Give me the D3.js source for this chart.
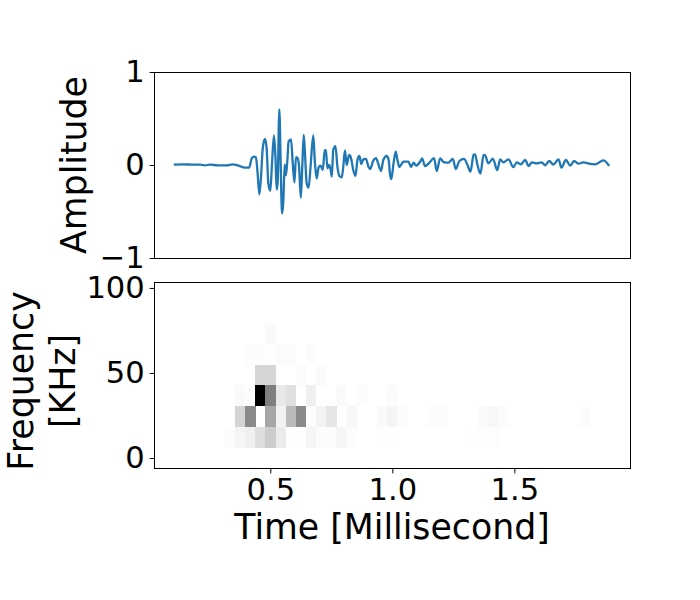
<!DOCTYPE html>
<html><head><meta charset="utf-8">
<style>html,body{margin:0;padding:0;background:#fff}svg{display:block}text{font-family:"DejaVu Sans";fill:#000}</style>
<script src="https://cdnjs.cloudflare.com/ajax/libs/d3/7.8.5/d3.min.js"></script>
</head><body><svg id="c" width="700" height="600"></svg>
<script>
const times=[.109,.144,.178,.212,.232,.253,.287,.321,.346,.369,.396,.413,.424,.433,.441,.447,.455,.462,.469,.478,.485,.492,.500,.507,.515,.521,.526,.530,.537,.543,.548,.553,.559,.564,.570,.575,.585,.592,.599,.605,.611,.618,.625,.631,.637,.642,.649,.657,.665,.676,.683,.690,.698,.706,.715,.723,.728,.734,.741,.746,.752,.758,.767,.775,.783,.793,.799,.806,.813,.823,.831,.840,.849,.857,.865,.873,.881,.892,.902,.909,.922,.933,.943,.954,.963,.977,.985,.991,.996,1.005,1.014,1.021,1.029,1.046,1.066,1.077,1.087,1.098,1.114,1.122,1.134,1.152,1.171,1.182,1.196,1.210,1.230,1.248,1.260,1.275,1.294,1.308,1.320,1.333,1.339,1.349,1.361,1.374,1.380,1.394,1.412,1.430,1.442,1.455,1.476,1.496,1.510,1.527,1.544,1.559,1.572,1.592,1.613,1.626,1.643,1.660,1.681,1.693,1.711,1.729,1.745,1.763,1.783,1.811,1.831,1.865,1.886];
const amplitude=[.004,.007,.004,.004,-.004,.004,-.004,-.004,.007,-.007,-.029,-.029,.072,.09,.082,-.054,-.315,-.125,.179,.28,.179,-.197,-.276,.018,.319,.09,-.262,-.197,.599,-.054,-.52,-.412,.004,-.111,.054,.251,.276,.018,-.186,.082,.082,-.018,-.351,-.018,.323,.125,-.197,-.244,-.018,.319,.018,-.147,-.025,-.007,-.054,.161,.161,-.036,0,-.036,-.125,.161,.204,-.018,-.118,-.133,-.018,.158,0,.108,.072,-.054,-.118,.054,.097,.011,.061,.065,-.018,-.043,.047,.075,.007,-.065,.054,.097,.054,-.108,-.151,.018,.143,.054,-.022,.036,.036,-.022,.025,-.007,.036,.072,-.011,.025,.075,-.065,.072,.032,.025,.065,-.043,.043,.065,0,-.072,.108,.115,0,-.093,.108,.104,.018,.068,-.054,.061,.029,.061,-.022,.029,.007,.054,-.011,.029,.018,.029,-.004,.043,.004,.061,-.029,.054,-.007,.043,.014,.029,.011,.007,.05,0];
const ampTicks=[-1,0,1], timeTicks=[0.5,1.0,1.5], freqTicks=[0,50,100];
const columns=d3.range(47), rows=d3.range(9);
const cellRow=[2,3,3,3,3,3,3,4,4,4,4,5,5,5,5,5,5,5,5,5,5,5,5,6,6,6,6,6,6,6,6,6,6,6,6,6,6,6,6,6,6,6,7,7,7,7,7,7,7,7,7,7,7,7,7,7,7,7,7,7];
const cellCol=[11,9,10,11,12,13,15,10,11,14,16,8,9,10,11,12,13,15,18,19,20,23,23,8,9,11,12,13,14,15,16,17,19,22,23,24,27,28,32,33,34,42,7,8,9,10,11,12,13,14,15,16,17,18,19,22,23,31,32,33];
const cellValue=[.02,.01,.012,.005,.015,.015,.01,.16,.16,.01,.02,.02,.01,1,.5,.09,.12,.06,.02,.005,.01,.008,.015,.17,.46,.35,.05,.27,.46,.01,.05,.1,.03,.02,.04,.01,.012,.012,.02,.03,.012,.012,.01,.04,.06,.13,.2,.08,.005,.005,.04,.01,.015,.04,.01,.005,.005,.005,.008,.008];

const left=154.5,right=630.5,t1=72.5,b1=258.5,t2=282.5,b2=468.5;
const svg=d3.select("#c");
const x=d3.scaleLinear().domain([0.0234,1.974]).range([left-.5,right-.5]);
const y1=d3.scaleLinear().domain([-1,1]).range([b1-.5,t1-.5]);
const y2=d3.scaleLinear().domain([-5.9,103.5]).range([b2-.5,t2-.5]);
const cx=d3.scaleBand().domain(columns).range([left-.5,right-.5]);
const cy=d3.scaleBand().domain(rows).range([t2-.5,b2-.5]);
const shade=v=>d3.rgb(255*(1-v),255*(1-v),255*(1-v));

svg.append("g").selectAll("rect").data(cellValue).join("rect")
 .attr("x",(d,i)=>cx(cellCol[i])).attr("y",(d,i)=>cy(cellRow[i]))
 .attr("width",cx.bandwidth()+.3).attr("height",cy.bandwidth()+.3)
 .attr("fill",d=>shade(d)).attr("shape-rendering","crispEdges");

svg.append("path").datum(times).attr("fill","none").attr("stroke","#1f77b4").attr("stroke-width",2.3)
 .attr("stroke-linejoin","round").attr("stroke-linecap","square")
 .attr("d",d3.line().curve(d3.curveMonotoneX).x(d=>x(d)).y((d,i)=>y1(amplitude[i])));

const tickF=30.56;
function axis(gen,tx,ty,vals,fmt){
  const g=svg.append("g").attr("transform",`translate(${tx},${ty})`)
   .call(gen.tickValues(vals).tickFormat(fmt).tickSizeOuter(0).tickSize(4.9).tickPadding(4.9));
  g.select(".domain").remove();
  g.selectAll("line").attr("stroke","#000").attr("stroke-width",1);
  g.selectAll("text").attr("font-size",tickF).attr("font-family","DejaVu Sans").attr("fill","#000");
  return g;
}
const minus=d=>String(d).replace("-","\u2212");
axis(d3.axisLeft(y1),left,0,ampTicks,minus);
axis(d3.axisLeft(y2),left,0,freqTicks,d=>d);
axis(d3.axisBottom(x),0,b2,timeTicks,d3.format(".1f"));

[[t1,b1],[t2,b2]].forEach(([a,b])=>svg.append("rect").attr("x",left).attr("y",a).attr("width",right-left).attr("height",b-a)
 .attr("fill","none").attr("stroke","#000").attr("stroke-width",1));

svg.append("text").attr("x",392).attr("y",539).attr("text-anchor","middle").attr("font-size",34.72).text("Time [Millisecond]");
svg.append("text").attr("transform","translate(86,165) rotate(-90)").attr("text-anchor","middle").attr("font-size",34.72).text("Amplitude");
svg.append("text").attr("transform","translate(33,381) rotate(-90)").attr("text-anchor","middle").attr("font-size",34.72).text("Frequency");
svg.append("text").attr("transform","translate(75,381) rotate(-90)").attr("text-anchor","middle").attr("font-size",34.72).text("[KHz]");
</script></body></html>
